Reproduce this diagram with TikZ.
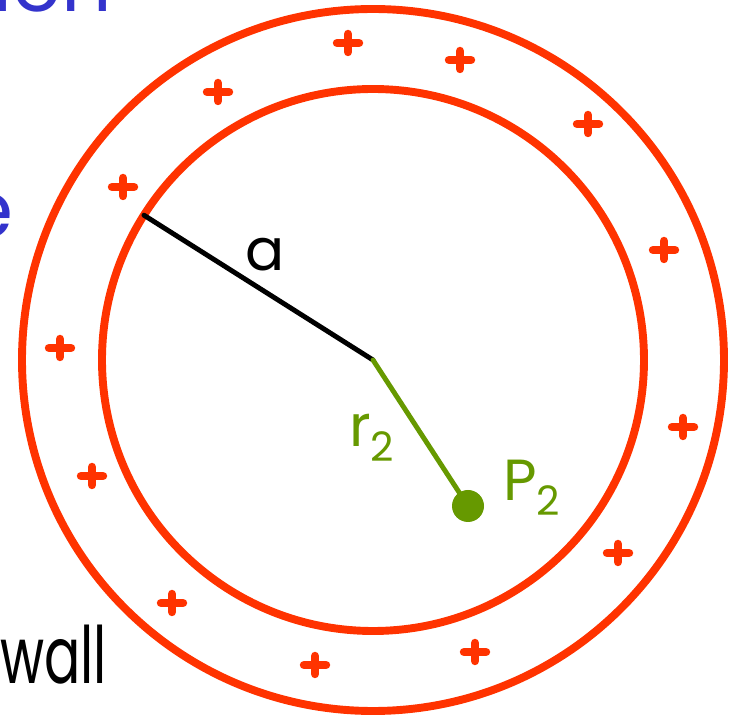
\documentclass[tikz,border=0pt]{standalone}
\usepackage{fontspec}
\setmainfont{Poppins}
\usetikzlibrary{calc}
\definecolor{shellred}{HTML}{FF3300}
\definecolor{pointgreen}{HTML}{669900}
\definecolor{textblue}{HTML}{3333CC}
\begin{document}
\begin{tikzpicture} [x=0.02cm, y=-0.02cm, line join=round, line cap=round]
			\def\rin{271};\def\rout{351};
			\tikzset{shell/.style={draw=shellred, line width=4.5pt},
				plusmark/.style={shellred, line width=4.8pt},
				bigtxt/.style={font=\fontsize{45}{50}\selectfont, inner sep=0pt},
				lbltxt/.style={font=\fontsize{33}{36}\selectfont, inner sep=0pt}}
			\useasboundingbox (0,0) rectangle (738,719);
			\clip (0,0) rectangle (738,719);
			\coordinate (O) at (373,360);
			\draw[shell] (O) circle(\rin);
			\draw[shell] (O) circle(\rout);
			% charges in the wall
			\foreach \px/\py in {348/43, 460/60, 218/92, 588/124, 123/187, 664/250, 60/348, 683/427, 92/476, 618/553, 172/603, 475/652, 315/665}
				\draw[plusmark] ({\px-11},\py) -- ({\px+11},\py) (\px,{\py-9}) -- (\px,{\py+9});
			\coordinate (A) at ($(O)+(212.3:\rin)$);
			\draw[line width=2.8pt] (O) -- (A);
			\node[lbltxt] (la) at (265,255) {a};
			\coordinate (P) at (468,506);
			\draw[pointgreen, line width=2.8pt] (O) -- (P);
			\fill[pointgreen] (P) circle(16);
			\node[lbltxt, pointgreen] (lr) at (372,438) {r\textsubscript{2}};
			\node[lbltxt, pointgreen] (lp) at (532,488) {P\textsubscript{2}};
			% cut off words from the slide
			\node[bigtxt, textblue, anchor=base east] (t1) at (112,12) {when};
			\node[bigtxt, textblue, anchor=base east] (t2) at (14,238) {the};
			\node[bigtxt, anchor=base west, xscale=0.68] (t3) at (0,684) {wall};
	\end{tikzpicture}
\end{document}
